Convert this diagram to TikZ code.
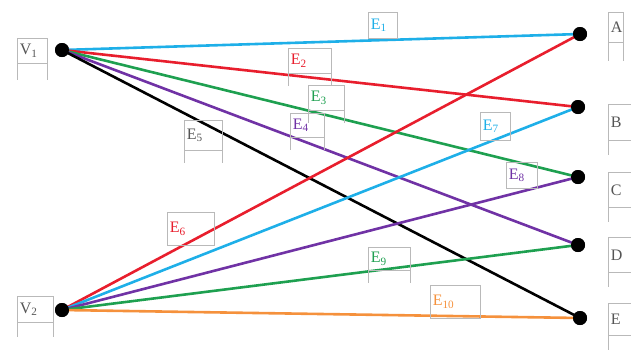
\documentclass[tikz,border=0pt]{standalone}
\usepackage{fontspec}
\setmainfont{Liberation Serif}
\definecolor{ccyan}{RGB}{30,175,232}
\definecolor{cred}{RGB}{232,30,45}
\definecolor{cgreen}{RGB}{30,160,80}
\definecolor{cpurple}{RGB}{112,50,165}
\definecolor{corange}{RGB}{245,145,60}
\definecolor{boxgray}{RGB}{185,185,185}
\definecolor{txtgray}{RGB}{85,85,85}
\tikzset{
  dot/.style={circle, fill=black, minimum size=14pt, inner sep=0pt},
  edgeline/.style={line width=2.6pt},
  lb/.style n args={3}{draw=boxgray, line width=0.6pt, anchor=north west,
     text width=#1-5pt, align=left, minimum height=#2, inner xsep=2.5pt, inner ysep=0pt,
     font=\fontsize{16}{17}\selectfont,
     append after command={
       (\tikzlastnode.south west) edge[draw=boxgray, line width=0.6pt] ++(0,#3)
       (\tikzlastnode.south east) edge[draw=boxgray, line width=0.6pt] ++(0,#3)}},
}
\begin{document}
\begin{tikzpicture}[x=1pt,y=-1pt]
\useasboundingbox (0,0) rectangle (631,349);
% dots
\node[dot] (v1) at (62,50) {};
\node[dot] (v2) at (62,310) {};
\node[dot] (a) at (580,34) {};
\node[dot] (b) at (578,107) {};
\node[dot] (c) at (578,177) {};
\node[dot] (d) at (578,245) {};
\node[dot] (e) at (580,318) {};
% edges
\draw[edgeline, ccyan] (v1.center) -- (a.center);
\draw[edgeline, cred] (v1.center) -- (b.center);
\draw[edgeline, cgreen] (v1.center) -- (c.center);
\draw[edgeline, cpurple] (v1.center) -- (d.center);
\draw[edgeline, black] (v1.center) -- (e.center);
\draw[edgeline, cred] (v2.center) -- (a.center);
\draw[edgeline, ccyan] (v2.center) -- (b.center);
\draw[edgeline, cpurple] (v2.center) -- (c.center);
\draw[edgeline, cgreen] (v2.center) -- (d.center);
\draw[edgeline, corange] (v2.center) -- (e.center);
\node[dot] at (v1) {};
\node[dot] at (v2) {};
\node[dot] at (a) {};
\node[dot] at (b) {};
\node[dot] at (c) {};
\node[dot] at (d) {};
\node[dot] at (e) {};
% vertex labels
\node[lb={30pt}{25}{16}, text=txtgray] (lv1) at (17,38) {V\textsubscript{1}};
\node[lb={36pt}{26}{14}, text=txtgray] (lv2) at (17,296) {V\textsubscript{2}};
\node[lb={15pt}{30}{18}, text=txtgray] (la) at (608,12) {A};
\node[lb={26pt}{36}{14}, text=txtgray] (lb) at (608,104) {B};
\node[lb={26pt}{35}{14}, text=txtgray] (lc) at (608,172) {C};
\node[lb={26pt}{35}{14}, text=txtgray] (ld) at (608,237) {D};
\node[lb={26pt}{32}{14}, text=txtgray] (le) at (608,303) {E};
% edge labels
\node[lb={29pt}{26}{0}, text=ccyan] (e1) at (368,12) {E\textsubscript{1}};
\node[lb={43pt}{25}{12}, text=cred] (e2) at (288,48) {E\textsubscript{2}};
\node[lb={36pt}{25}{12}, text=cgreen] (e3) at (308,85) {E\textsubscript{3}};
\node[lb={34pt}{24}{12}, text=cpurple] (e4) at (290,113) {E\textsubscript{4}};
\node[lb={38pt}{30}{12}, text=txtgray] (e5) at (184,120) {E\textsubscript{5}};
\node[lb={47pt}{33}{0}, text=cred] (e6) at (167,212) {E\textsubscript{6}};
\node[lb={30pt}{28}{0}, text=ccyan] (e7) at (480,112) {E\textsubscript{7}};
\node[lb={31pt}{26}{0}, text=cpurple] (e8) at (506,162) {E\textsubscript{8}};
\node[lb={42pt}{23}{12}, text=cgreen] (e9) at (368,247) {E\textsubscript{9}};
\node[lb={50pt}{33}{0}, text=corange] (e10) at (430,285) {E\textsubscript{10}};
\end{tikzpicture}
\end{document}
